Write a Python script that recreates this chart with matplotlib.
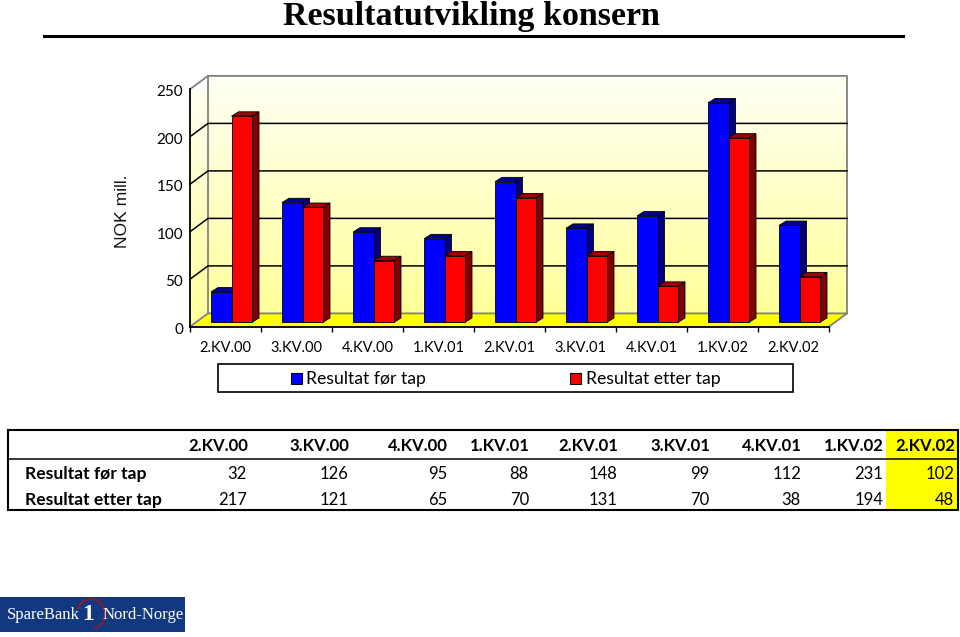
import numpy as np
import matplotlib
matplotlib.use("Agg")
import matplotlib.pyplot as plt
from matplotlib.patches import Polygon, Rectangle, Arc
from matplotlib.colors import LinearSegmentedColormap
from matplotlib.transforms import ScaledTranslation

categories = ["2.KV.00", "3.KV.00", "4.KV.00", "1.KV.01", "2.KV.01", "3.KV.01", "4.KV.01", "1.KV.02", "2.KV.02"]
series_names = ["Resultat før tap", "Resultat etter tap"]
before_tax = [32, 126, 95, 88, 148, 99, 112, 231, 102]
after_tax = [217, 121, 65, 70, 131, 70, 38, 194, 48]
y_ticks = [0, 50, 100, 150, 200, 250]
column_right_edges = [247, 348, 447, 529, 617, 709, 801, 883, 954]

W, H = 960, 637
GILL = "Lato"
fig = plt.figure(figsize=(W / 100, H / 100), dpi=100, facecolor="white")

# Overlay in pixel coordinates for title, legend, table, logo
ov = fig.add_axes([0, 0, 1, 1], zorder=5)
ov.set_xlim(0, W); ov.set_ylim(H, 0); ov.axis("off"); ov.patch.set_alpha(0)

ax = fig.add_axes([190 / W, (H - 326.7) / H, 639 / W, 237.5 / H], zorder=2)
ax.patch.set_alpha(0)
n = len(categories)
DX, DY = 18 / 71, 14.0            # full floor depth, in data units
BOFF_X, BOFF_Y = 6 / 71, 4.6      # bar front plane offset
BDX, BDY = 7 / 71, 4.6            # bar depth
BW = 20.5 / 71

cmap = LinearSegmentedColormap.from_list("wall", ["#ffff99", "#fffff6"])
grad = np.linspace(0, 1, 256).reshape(-1, 1)
ax.imshow(grad, origin="lower", aspect="auto", cmap=cmap, extent=(DX, n + DX, DY, 250 + DY), zorder=0, clip_on=False)
im = ax.imshow(grad, origin="lower", aspect="auto", cmap=cmap, extent=(0, DX, 0, 250 + DY), zorder=0)
wall = Polygon([(0, 0), (DX, DY), (DX, 250 + DY), (0, 250)], transform=ax.transData, fc="none", ec="none", clip_on=False)
ax.add_patch(wall)
im.set_clip_path(wall)
ax.add_patch(Polygon([(0, 0), (n, 0), (n + DX, DY), (DX, DY)], fc="#ffff00", ec="none", zorder=1, clip_on=False))

for t in y_ticks[1:-1]:
    ax.plot([0, DX, n + DX], [t, t + DY, t + DY], color="black", lw=1.1, zorder=1.5, clip_on=False)
GREY = "#808080"
ax.plot([DX, DX], [DY, 250 + DY], color=GREY, lw=1.3, zorder=1.4, clip_on=False)
ax.plot([0, DX, n + DX, n], [0, DY, DY, 0], color=GREY, lw=1.3, zorder=1.4, clip_on=False)
ax.plot([0, DX, n + DX, n + DX], [250, 250 + DY, 250 + DY, DY], color=GREY, lw=1.3, zorder=1.4, clip_on=False)


def bar3d(x0, v, front, side, top, z):
    b = BOFF_Y
    x1 = x0 + BW
    ax.bar(x0, v, width=BW, bottom=b, align="edge", color=front, ec="black", lw=0.6, zorder=z + 0.2, clip_on=False)
    ax.add_patch(Polygon([(x1, b), (x1 + BDX, b + BDY), (x1 + BDX, b + v + BDY), (x1, b + v)], fc=side, ec="black", lw=0.6, zorder=z, clip_on=False))
    ax.add_patch(Polygon([(x0, b + v), (x0 + BDX, b + v + BDY), (x1 + BDX, b + v + BDY), (x1, b + v)], fc=top, ec="black", lw=0.6, zorder=z, clip_on=False))


for i in range(n):
    left = i + 0.5 + BOFF_X - BW
    bar3d(left, before_tax[i], "#0000ff", "#000080", "#000099", 3 + i)
    bar3d(left + BW, after_tax[i], "#ff0000", "#800000", "#a00000", 3.5 + i)

ax.set_xlim(0, n); ax.set_ylim(0, 250)
for s in ("top", "right"):
    ax.spines[s].set_visible(False)
for s in ("left", "bottom"):
    ax.spines[s].set_linewidth(1.3)
    ax.spines[s].set_zorder(20)
ax.set_yticks(y_ticks)
ax.set_yticklabels([str(t) for t in y_ticks], fontfamily=GILL, fontsize=11)
ax.tick_params(axis="y", length=0, pad=5)
down = ScaledTranslation(0, -1.5 / 100, fig.dpi_scale_trans)
for lab in ax.get_yticklabels():
    lab.set_transform(lab.get_transform() + down)
ax.set_xticks(np.arange(n + 1))
ax.set_xticklabels([])
ax.set_xticks(np.arange(n) + 0.5, minor=True)
ax.set_xticklabels(categories, minor=True, fontfamily=GILL, fontsize=10.5)
ax.tick_params(axis="x", which="major", length=3.5, width=1)
ax.tick_params(axis="x", which="minor", length=0, pad=10.5)
ax.set_ylabel("NOK mill.", fontfamily="Liberation Sans", fontsize=12.6, color="#111111")
ax.yaxis.set_label_coords((130 - 190) / 639, (326.7 - 211) / 237.5)

# Title and rule
ov.text(471, 25, "Resultatutvikling konsern", family="Liberation Serif", weight="bold", fontsize=24.5, ha="center", va="baseline", color="black")
ov.plot([44, 903], [35.7, 35.7], color="black", lw=2.2)

# Legend
ov.add_patch(Rectangle((217.5, 363.5), 575, 28.5, fc="white", ec="black", lw=1.2))
for xs, col, lab, xt in [(291, "#0000ff", series_names[0], 306), (570, "#ff0000", series_names[1], 586)]:
    ov.add_patch(Rectangle((xs, 373), 11, 11, fc=col, ec="black", lw=0.8))
    ov.text(xt, 379, lab, family=GILL, fontsize=12.7, ha="left", va="center")

# Table
ov.add_patch(Rectangle((886, 430), 72, 80, fc="#ffff00", ec="none", zorder=1))
ov.add_patch(Rectangle((7.5, 430), 950.5, 79.5, fc="none", ec="black", lw=1.5, zorder=3))
ov.plot([7.5, 958], [459, 459], color="black", lw=1.1, zorder=3)
for i, xr in enumerate(column_right_edges):
    ov.text(xr + 1, 446, categories[i], family=GILL, weight="bold", fontsize=12, ha="right", va="center", zorder=4)
    ov.text(xr, 474, str(before_tax[i]), family=GILL, fontsize=12, ha="right", va="center", zorder=4)
    ov.text(xr, 500, str(after_tax[i]), family=GILL, fontsize=12, ha="right", va="center", zorder=4)
ov.text(25, 474, series_names[0], family=GILL, weight="bold", fontsize=12.6, ha="left", va="center", zorder=4)
ov.text(25, 500, series_names[1], family=GILL, weight="bold", fontsize=12.6, ha="left", va="center", zorder=4)

# Logo
ov.add_patch(Rectangle((0, 597), 185, 35, fc="#12397f", ec="none"))
ov.add_patch(Arc((91, 614), 28, 30, theta1=200, theta2=80, ec="#7a1f3a", lw=1.6))
ov.text(7, 615, "SpareBank", family="Liberation Serif", fontsize=12, color="white", ha="left", va="center")
ov.text(88, 614, "1", family="Liberation Serif", weight="bold", fontsize=17, color="white", ha="center", va="center")
ov.text(103, 615, "Nord-Norge", family="Liberation Serif", fontsize=12, color="white", ha="left", va="center")

fig.savefig("out.png", dpi=100)
